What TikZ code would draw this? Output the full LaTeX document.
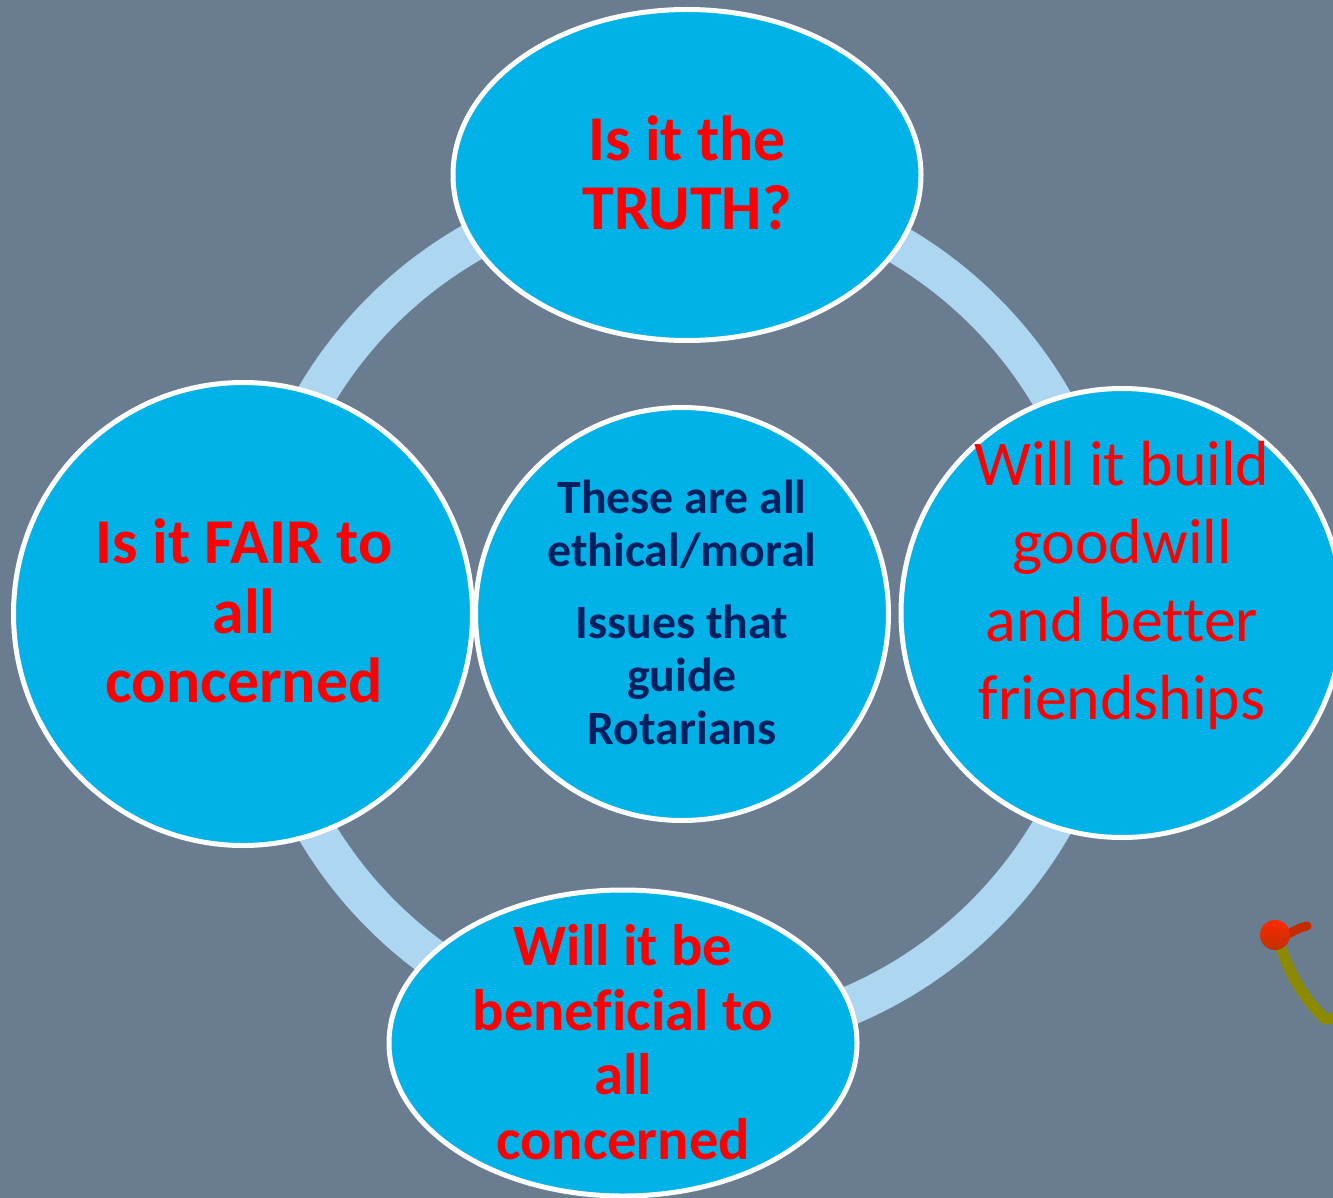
\documentclass[tikz,border=0pt]{standalone}
\usepackage{fontspec}
\setmainfont[Ligatures=NoCommon]{Carlito}
\usetikzlibrary{shapes.geometric}
\definecolor{bgslate}{HTML}{697C90}
\definecolor{bubble}{HTML}{00B2E8}
\definecolor{ringblue}{HTML}{ADD6F1}
\definecolor{navytext}{HTML}{002060}
\definecolor{olivewire}{HTML}{8B8A00}
\definecolor{balltop}{HTML}{FF2A00}
\definecolor{ballbottom}{HTML}{BE3000}
\begin{document}
\begin{tikzpicture}[x=1pt,y=-1pt,
  bubblestyle/.style={shape=ellipse,draw=white,line width=5pt,fill=bubble,inner sep=0pt},
  redbold/.style={text=red,font=\bfseries\fontsize{63.8}{69.5}\selectfont,align=center,inner sep=0pt},
  redlight/.style={text=red,font=\fontsize{63.8}{78}\selectfont,align=center,inner sep=0pt},
  navybold/.style={text=navytext,font=\bfseries\fontsize{47.8}{53}\selectfont,align=center,inner sep=0pt}
]
\useasboundingbox (0,0) rectangle (1333,1198);
\clip (0,0) rectangle (1333,1198);
\fill[bgslate] (0,0) rectangle (1333,1198);
% ring
\coordinate (ringc) at (683,613);
\draw[ringblue,line width=39pt] (ringc) circle [radius=426.5pt];
% bubbles
\node[bubblestyle,minimum width=468pt,minimum height=331pt] (top) at (687,175) {};
\node[bubblestyle,minimum width=459pt,minimum height=463pt] (left) at (243,614) {};
\node[bubblestyle,minimum width=442pt,minimum height=449pt] (right) at (1122,613) {};
\node[bubblestyle,minimum width=468pt,minimum height=306pt] (bottom) at (623,1043) {};
\node[bubblestyle,minimum width=413pt,minimum height=413pt] (centre) at (682,614) {};
% texts
\node[redbold] (toptext) at (687,173) {Is it the\\TRUTH?};
\node[redbold] (lefttext) at (244,611) {Is it FAIR to\\all\\concerned};
\node[redlight] (righttext) at (1122,585) {Will it build\\goodwill\\and better\\friendships};
\node[redbold,font=\bfseries\fontsize{58.5}{64.5}\selectfont] (bottomtext) at (623,1042) {Will it be\\beneficial to\\all\\concerned};
\node[navybold] (centretext1) at (682,524) {These are all\\ethical/moral};
\node[navybold] (centretext2) at (682,675) {Issues that\\guide\\Rotarians};
% pin
\draw[olivewire,line width=11pt,line join=round] (1281,948) .. controls (1290,975) and (1305,1000) .. (1325,1019) -- (1340,1018);
\draw[ballbottom!90!red,line width=9pt,line cap=round] (1285,935) .. controls (1295,931) and (1300,927) .. (1307,926);
\shade[top color=balltop,bottom color=ballbottom] (1275,935) circle [radius=15pt];
\end{tikzpicture}
\end{document}
